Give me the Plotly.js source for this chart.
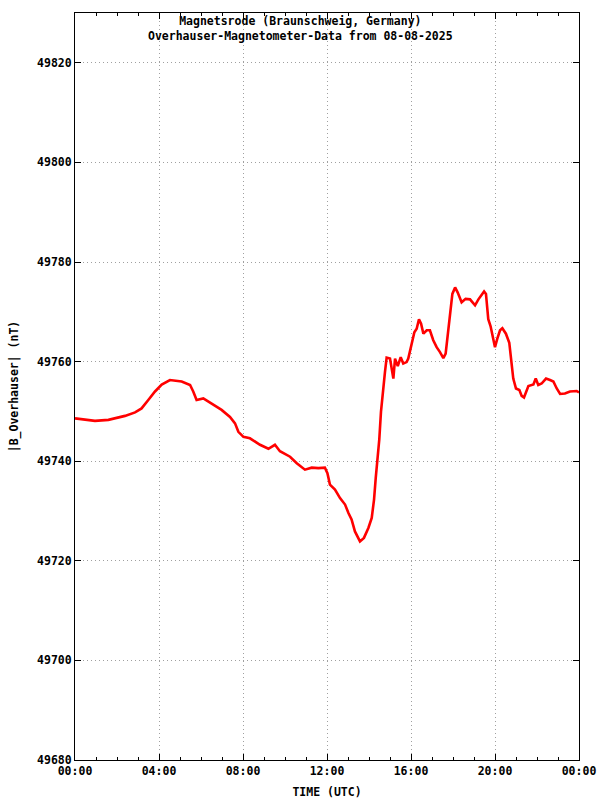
<!DOCTYPE html>
<html>
<head>
<meta charset="utf-8">
<script src="https://cdn.plot.ly/plotly-3.0.1.min.js"></script>
<style>html,body{margin:0;padding:0;background:#fff;}#chart{width:600px;height:800px;}</style>
</head>
<body>
<div id="chart"></div>
<script>
const hours = [0, 0.5, 0.95, 1.59, 2.38, 2.86, 3.17, 3.49, 3.81, 4.13, 4.52, 5.08, 5.48, 5.63, 5.79, 6.11, 6.51, 6.98, 7.38, 7.62, 7.78, 8.02, 8.33, 8.81, 9.21, 9.52, 9.76, 10.24, 10.56, 10.95, 11.27, 11.59, 11.9, 12.02, 12.14, 12.38, 12.62, 12.86, 13.02, 13.17, 13.33, 13.57, 13.76, 13.97, 14.13, 14.24, 14.32, 14.40, 14.49, 14.57, 14.68, 14.76, 14.84, 15.0, 15.16, 15.24, 15.37, 15.51, 15.63, 15.79, 15.87, 15.98, 16.06, 16.16, 16.27, 16.38, 16.48, 16.59, 16.75, 16.90, 17.06, 17.22, 17.38, 17.54, 17.65, 17.73, 17.78, 17.89, 17.97, 18.1, 18.22, 18.41, 18.6, 18.81, 19.05, 19.21, 19.37, 19.48, 19.57, 19.63, 19.68, 19.79, 19.92, 20.0, 20.11, 20.24, 20.35, 20.52, 20.68, 20.75, 20.79, 20.87, 21.0, 21.16, 21.27, 21.38, 21.59, 21.83, 21.94, 22.06, 22.22, 22.43, 22.62, 22.78, 22.94, 23.1, 23.33, 23.57, 23.89, 24];
const fieldNT = [49748.6, 49748.3, 49748.1, 49748.3, 49749.1, 49749.8, 49750.6, 49752.3, 49754.0, 49755.4, 49756.3, 49756.0, 49755.3, 49754.0, 49752.3, 49752.6, 49751.6, 49750.3, 49748.9, 49747.6, 49745.9, 49744.9, 49744.6, 49743.3, 49742.5, 49743.3, 49742.0, 49740.9, 49739.6, 49738.3, 49738.7, 49738.6, 49738.7, 49737.6, 49735.3, 49734.3, 49732.6, 49731.3, 49729.6, 49728.3, 49725.9, 49723.9, 49724.6, 49726.6, 49728.6, 49732.3, 49736.6, 49739.9, 49744.4, 49749.9, 49755.6, 49757.9, 49760.8, 49760.6, 49756.6, 49760.6, 49759.1, 49760.9, 49759.6, 49759.9, 49760.6, 49762.5, 49763.9, 49765.9, 49766.6, 49768.5, 49767.6, 49765.6, 49766.3, 49766.3, 49764.3, 49762.9, 49761.9, 49760.7, 49761.6, 49764.4, 49766.5, 49770.9, 49773.6, 49774.9, 49773.9, 49771.9, 49772.6, 49772.5, 49771.3, 49772.5, 49773.6, 49774.1, 49773.6, 49770.6, 49768.5, 49767.1, 49764.6, 49762.9, 49764.6, 49766.3, 49766.7, 49765.6, 49763.8, 49761.4, 49758.9, 49756.6, 49754.6, 49754.3, 49753.1, 49752.8, 49755.1, 49755.4, 49756.6, 49755.3, 49755.6, 49756.6, 49756.3, 49756.0, 49754.6, 49753.5, 49753.6, 49754.0, 49754.1, 49753.8];
const xTickVals = [0, 4, 8, 12, 16, 20, 24];
const xTickText = ["00:00", "04:00", "08:00", "12:00", "16:00", "20:00", "00:00"];
const yTickVals = [49680, 49700, 49720, 49740, 49760, 49780, 49800, 49820];
const yTickText = ["49680", "49700", "49720", "49740", "49760", "49780", "49800", "49820"];

const FONT = "DejaVu Sans Mono";

const trace = {
  x: hours, y: fieldNT, type: "scatter", mode: "lines",
  line: {color: "#ff0000", width: 2.6}, hoverinfo: "skip"
};

const layout = {
  width: 600, height: 800,
  margin: {l: 75, r: 21, t: 13, b: 40},
  paper_bgcolor: "#ffffff", plot_bgcolor: "#ffffff",
  showlegend: false,
  font: {family: FONT, size: 11.5, color: "#000", weight: "bold"},
  xaxis: {
    range: [0, 24], tickvals: xTickVals, ticktext: xTickText,
    ticks: "inside", ticklen: 6, tickcolor: "#000", tickwidth: 1,
    showline: true, linecolor: "#000", linewidth: 1, mirror: "ticks",
    showgrid: true, gridcolor: "#a0a0a0", griddash: "1px,3px", gridwidth: 1,
    zeroline: false,
    minor: {dtick: 1, ticks: "inside", ticklen: 3, tickcolor: "#000", showgrid: false},
    tickfont: {family: FONT, size: 11.5, color: "#000", weight: "bold"},
    title: {text: "TIME (UTC)", font: {family: FONT, size: 11.5, color: "#000", weight: "bold"}, standoff: 11}
  },
  yaxis: {
    range: [49680, 49830], tickvals: yTickVals, ticktext: yTickText,
    ticks: "inside", ticklen: 6, tickcolor: "#000", tickwidth: 1,
    showline: true, linecolor: "#000", linewidth: 1, mirror: "ticks",
    showgrid: true, gridcolor: "#a0a0a0", griddash: "1px,3px", gridwidth: 1,
    zeroline: false,
    tickfont: {family: FONT, size: 11.5, color: "#000", weight: "bold"},
    title: {text: "|B_Overhauser| (nT)", font: {family: FONT, size: 11.5, color: "#000", weight: "bold"}, standoff: 16}
  },
  annotations: [{
    text: "Magnetsrode (Braunschweig, Germany)<br>Overhauser-Magnetometer-Data from 08-08-2025",
    xref: "paper", yref: "paper", x: (300 - 75) / 504, y: 1, xanchor: "center", yanchor: "top",
    yshift: 1, showarrow: false, align: "center",
    font: {family: FONT, size: 11.5, color: "#000", weight: "bold"}
  }]
};

Plotly.newPlot("chart", [trace], layout, {displayModeBar: false, staticPlot: true});
</script>
</body>
</html>
